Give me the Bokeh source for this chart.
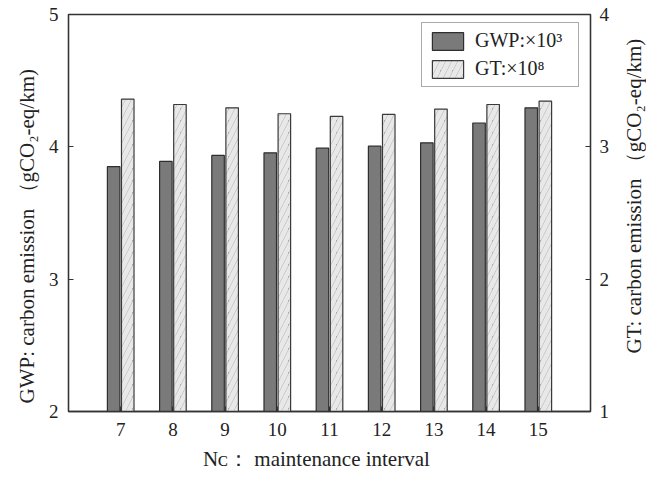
from bokeh.plotting import figure
from bokeh.layouts import row
from bokeh.models import (Range1d, LinearAxis, FixedTicker, Legend,
                          LegendItem, ColumnDataSource, Title)
from bokeh.embed import file_html
from bokeh.resources import INLINE

# ---- data ----
intervals = [7, 8, 9, 10, 11, 12, 13, 14, 15]
gwp = [3.85, 3.89, 3.935, 3.955, 3.99, 4.005, 4.03, 4.18, 4.295]   # x10^3
gt = [3.36, 3.32, 3.295, 3.25, 3.23, 3.245, 3.285, 3.32, 3.345]     # x10^8
left_ticks = [2, 3, 4, 5]
right_ticks = [1, 2, 3, 4]
left_title = "GWP: carbon emission （gCO₂-eq/km)"
right_title = "GT: carbon emission （gCO₂-eq/km)"
x_title = "Nᴄ： maintenance interval"
legend_labels = ["GWP:×10³", "GT:×10⁸"]

FONT = "Liberation Serif"
W, H = 646, 479
W2 = 34                      # narrow strip holding the right-hand title
W1 = W - W2
FL, FR, FT, FB = 68, 593, 14, 411   # frame bounds (px)

p = figure(width=W1, height=H, output_backend="svg", toolbar_location=None,
           x_range=Range1d(6, 16), y_range=Range1d(2, 5),
           min_border_left=FL, min_border_right=W1 - FR,
           min_border_top=FT, min_border_bottom=H - FB)
p.extra_y_ranges = {"gt": Range1d(1, 4)}
p.xgrid.visible = False
p.ygrid.visible = False
p.outline_line_color = "#333333"
p.outline_line_width = 1.3
p.background_fill_color = "white"
p.border_fill_color = "white"

off = 0.135
bw = 0.24
src = ColumnDataSource(dict(
    xg=[c - off for c in intervals], xt=[c + off for c in intervals],
    gwp=gwp, gt=gt))

r1 = p.vbar(x="xg", top="gwp", bottom=2, width=bw, source=src,
            fill_color="#7a7a7a", line_color="#2e2e2e", line_width=1.2)
r2 = p.vbar(x="xt", top="gt", bottom=1, width=bw, source=src, y_range_name="gt",
            fill_color="#ababab", line_color="#3a3a3a", line_width=1.2,
            hatch_pattern="/", hatch_color="#e8e8e8", hatch_scale=12,
            hatch_weight=5)

def style_axis(ax):
    ax.axis_line_color = "#333333"
    ax.axis_line_width = 1.3
    ax.major_tick_in = 5
    ax.major_tick_out = 0
    ax.minor_tick_line_color = None
    ax.major_tick_line_color = "#333333"
    ax.major_label_text_font = FONT
    ax.major_label_text_font_size = "19px"
    ax.major_label_text_color = "#222222"
    ax.major_label_standoff = 10
    ax.axis_label_text_font = FONT
    ax.axis_label_text_font_style = "normal"
    ax.axis_label_text_color = "#222222"
    ax.axis_label_text_font_size = "21px"

p.xaxis.ticker = FixedTicker(ticks=intervals)
p.yaxis.ticker = FixedTicker(ticks=left_ticks)
xax = p.xaxis[0]
yax = p.yaxis[0]
style_axis(xax)
style_axis(yax)
xax.major_label_standoff = 11
xax.axis_label = x_title + "\u00a0" * 5
xax.axis_label_standoff = 8

rax = LinearAxis(y_range_name="gt", ticker=FixedTicker(ticks=right_ticks))
style_axis(rax)
rax.major_label_standoff = 9
p.add_layout(rax, "right")

# left title (reads bottom-to-top), starting near the bottom of the frame
p.add_layout(Title(text=left_title, align="left", offset=8, standoff=14,
                   text_font=FONT, text_font_size="21px", text_font_style="normal",
                   text_color="#222222"), "left")

# legend
legend = Legend(items=[LegendItem(label=legend_labels[0] + "\u00a0\u00a0", renderers=[r1]),
                       LegendItem(label=legend_labels[1] + "\u00a0\u00a0", renderers=[r2])],
                location=(353, 324), margin=0, padding=6, spacing=5,
                glyph_width=39, glyph_height=22, label_standoff=8,
                label_width=95,
                label_text_font=FONT, label_text_font_size="20px",
                label_text_color="#222222",
                border_line_color="#555555", border_line_width=1.5,
                background_fill_color="white", background_fill_alpha=1)
p.add_layout(legend)

# narrow strip at the right whose left-side title reads bottom-to-top.
# Its frame is kept aligned with the main frame (row aligns frames).
p2 = figure(width=W2, height=H, output_backend="svg", toolbar_location=None,
            x_axis_type=None, y_axis_type=None,
            min_border_left=W2 - 1, min_border_right=0,
            min_border_top=FT, min_border_bottom=H - FB)
p2.outline_line_color = None
p2.grid.visible = False
p2.border_fill_color = "white"
p2.background_fill_color = "white"
p2.add_layout(Title(text=right_title, align="left", offset=58, standoff=0,
                    text_font=FONT, text_font_size="21px", text_font_style="normal",
                    text_color="#222222"), "left")

layout = row(p, p2, spacing=0)
open("out.html", "w").write(file_html(layout, INLINE))
